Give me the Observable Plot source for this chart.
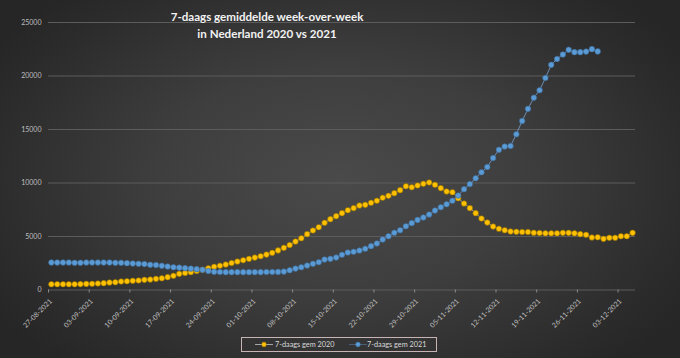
<!DOCTYPE html>
<html><head><meta charset="utf-8">
<script src="https://cdn.jsdelivr.net/npm/d3@7"></script>
<script src="https://cdn.jsdelivr.net/npm/@observablehq/plot@0.6"></script>
<style>
html,body{margin:0;padding:0;background:#2a2a2a;}
#wrap{position:relative;width:680px;height:358px;overflow:hidden;
  background:radial-gradient(ellipse 60% 70% at 50% 50%, #4a4a4a 0%, #3e3e3e 45%, #2c2c2c 85%, #262626 100%);
  font-family:Lato, "Open Sans", sans-serif;}
#title{position:absolute;left:67px;top:8px;width:400px;text-align:center;color:#f2f2f2;
  font-weight:bold;font-size:11.6px;line-height:17px;}
#chart{position:absolute;left:0;top:0;}
#legend{position:absolute;left:241px;top:337px;width:196px;height:15px;box-sizing:border-box;
  border:1px solid #c8b4b4;color:#d9d9d9;font-size:7.3px;}
#legend .item{position:absolute;top:0;height:13px;line-height:13px;white-space:nowrap;}
#legend svg{position:absolute;top:0;}
</style></head>
<body>
<div id="wrap">
  <div id="chart"></div>
  <div id="title">7-daags gemiddelde week-over-week<br>in Nederland 2020 vs 2021</div>
  <div id="legend"></div>
</div>
<script>
const xTickLabels = ["27-08-2021","03-09-2021","10-09-2021","17-09-2021","24-09-2021","01-10-2021","08-10-2021","15-10-2021","22-10-2021","29-10-2021","05-11-2021","12-11-2021","19-11-2021","26-11-2021","03-12-2021"];
const yTicks = [0, 5000, 10000, 15000, 20000, 25000];
const seriesNames = ["7-daags gem 2020", "7-daags gem 2021"];

// one value per day starting 27-08
const gem2020 = [540,540,540,540,540,550,570,580,610,640,700,730,790,820,860,890,950,980,1040,1100,1200,1330,
  1510,1590,1670,1780,1890,2030,2170,2270,2380,2520,2660,2780,2910,3030,3160,3310,3470,3700,3940,4200,
  4530,4840,5220,5560,5870,6280,6620,6900,7180,7460,7650,7900,7960,8150,8340,8620,8800,9050,9330,9700,9600,9770,
  9920,10050,9830,9520,9210,9140,8580,8080,7650,7180,6680,6310,5930,5720,5590,5470,5440,5420,5420,5350,5330,
  5300,5300,5300,5340,5340,5300,5220,5160,4910,4930,4780,4880,4880,5030,5030,5340];
const gem2021 = [2570,2570,2570,2570,2540,2540,2570,2570,2570,2570,2570,2540,2540,2510,2480,2450,2420,2360,2330,2260,2200,2130,
  2090,2040,2000,1950,1890,1780,1700,1680,1670,1670,1670,1670,1670,1670,1670,1680,1680,1690,1720,1850,2000,
  2130,2290,2450,2600,2850,2910,3040,3290,3500,3570,3690,3850,4100,4350,4720,5030,5350,5590,5960,6250,6550,
  6780,7060,7430,7740,8020,8340,8830,9420,9900,10450,11000,11500,12340,13100,13410,13460,14560,15800,16930,17970,18670,19820,21040,21590,22010,22450,22230,22230,22280,22510,22300];

const c2020 = "#FFC000", c2021 = "#5B9BD5";
const nDays = 101;

const plot = Plot.plot({
  width: 680, height: 358,
  marginLeft: 48, marginRight: 45, marginTop: 22, marginBottom: 68.5,
  style: {background: "transparent", color: "#bfbfbf", fontFamily: "Lato, sans-serif", fontSize: "7px", overflow: "visible"},
  x: {domain: [0, nDays]},
  y: {domain: [0, 25000]},
  marks: [
    Plot.gridY(yTicks, {stroke: "#5c5c5c", strokeOpacity: 1, strokeWidth: 1}),
    Plot.axisY(yTicks, {tickSize: 0, tickPadding: 7, tickFormat: d3.format("d"), fill: "#bfbfbf", label: null, fontSize: 7}),
    Plot.axisX(d3.range(0, 99, 7), {tickSize: 3, stroke: "#8c8c8c", text: null, label: null}),
    Plot.axisX(d3.range(0, 99, 7), {tickFormat: d => xTickLabels[d / 7], tickRotate: -45, tickSize: 0, tickPadding: 5,
      dx: 2.5, dy: 5, fill: "#bfbfbf", label: null, fontSize: 7}),
    Plot.lineY(gem2020, {x: (d, i) => i + 0.5, y: d => d, stroke: "#a5a5a5", strokeWidth: 1}),
    Plot.dot(gem2020, {x: (d, i) => i + 0.5, y: d => d, r: 2.8, fill: c2020, stroke: "#8a6a00", strokeWidth: 0.6}),
    Plot.lineY(gem2021, {x: (d, i) => i + 0.5, y: d => d, stroke: "#6d8db3", strokeWidth: 1}),
    Plot.dot(gem2021, {x: (d, i) => i + 0.5, y: d => d, r: 2.8, fill: c2021, stroke: "#3d6a96", strokeWidth: 0.6})
  ]
});
document.getElementById("chart").appendChild(plot);

// legend
const leg = document.getElementById("legend");
leg.innerHTML = `
  <svg width="40" height="13" style="left:10px"><line x1="3" x2="21" y1="6.5" y2="6.5" stroke="#a5a5a5" stroke-width="1"/>
    <circle cx="12" cy="6.5" r="2.4" fill="${c2020}" stroke="#8a6a00" stroke-width="0.5"/></svg>
  <div class="item" style="left:33px">${seriesNames[0]}</div>
  <svg width="30" height="13" style="left:104px"><line x1="3" x2="21" y1="6.5" y2="6.5" stroke="#4a5e78" stroke-width="1"/>
    <circle cx="12" cy="6.5" r="2.4" fill="${c2021}" stroke="#3d6a96" stroke-width="0.5"/></svg>
  <div class="item" style="left:125px">${seriesNames[1]}</div>`;
</script>
</body></html>
